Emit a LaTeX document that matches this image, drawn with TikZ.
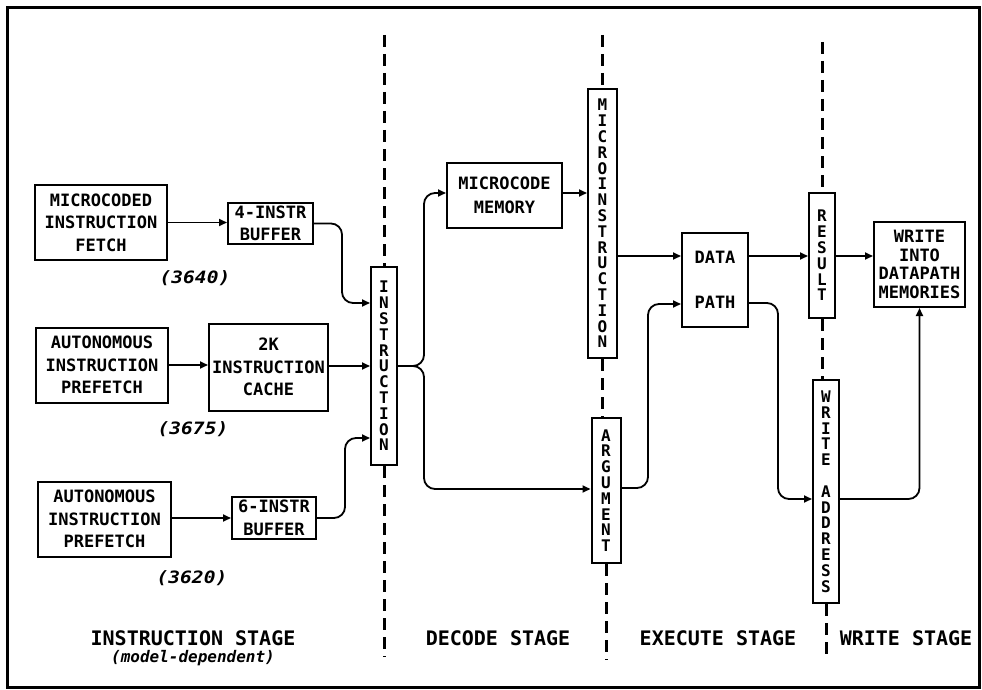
\documentclass[tikz,border=0pt]{standalone}
\usepackage{fontspec}
\setmainfont{DejaVu Sans Mono}
\newfontfamily\numfont{DejaVu Sans Mono}[FakeStretch=1.15]
\usetikzlibrary{arrows.meta}
\newcommand\bxf{\fontsize{17}{22.5}\selectfont\bfseries}
\newcommand\vlf{\fontsize{16}{15.8}\selectfont\bfseries}
\begin{document}
\begin{tikzpicture}[x=1pt,y=-1pt,
  box/.style={draw, line width=2pt, inner sep=0pt, font=\bxf, align=center},
  vbox/.style={draw, line width=2pt, inner sep=0pt, font=\vlf, align=center},
  txt/.style={inner sep=0pt, font=\bxf},
  numlab/.style={inner sep=0pt, font=\numfont\fontsize{17}{20}\selectfont\bfseries\itshape},
  stagelab/.style={inner sep=0pt, font=\fontsize{20}{24}\selectfont\bfseries},
  sublab/.style={inner sep=0pt, font=\fontsize{16}{19}\selectfont\bfseries\itshape},
  conn/.style={line width=1.8pt, rounded corners=11pt, -{Triangle[length=8pt,width=7pt]}},
  dsh/.style={line width=3pt, dash pattern=on 12pt off 7pt}]
\useasboundingbox (0,0) rectangle (982,690);
\draw[line width=3pt] (7,8) rectangle (979,687);

% instruction stage boxes
\node[box, minimum width=132pt, minimum height=75pt] (fetch) at (101,222.5) {MICROCODED\\INSTRUCTION\\FETCH};
\node[box, minimum width=85pt, minimum height=41pt] (buf4) at (270.5,223.5) {4-INSTR\\BUFFER};
\node[box, minimum width=132pt, minimum height=75pt] (pre2) at (102,365) {AUTONOMOUS\\INSTRUCTION\\PREFETCH};
\node[box, minimum width=119pt, minimum height=87pt] (cache) at (268.5,367) {2K\\INSTRUCTION\\CACHE};
\node[box, minimum width=133pt, minimum height=75pt] (pre3) at (104.5,519) {AUTONOMOUS\\INSTRUCTION\\PREFETCH};
\node[box, minimum width=84pt, minimum height=42pt] (buf6) at (274,518) {6-INSTR\\BUFFER};
\node[vbox, minimum width=26pt, minimum height=198pt] (instr) at (384,366) {I\\N\\S\\T\\R\\U\\C\\T\\I\\O\\N};

\node[numlab] (n1) at (195,278) {(3640)};
\node[numlab] (n2) at (193,429) {(3675)};
\node[numlab] (n3) at (192,578) {(3620)};

% decode stage
\node[box, minimum width=115pt, minimum height=65pt] (mcm) at (504.5,195.5) {MICROCODE\\[1.5pt]MEMORY};
\node[vbox, minimum width=29pt, minimum height=269pt] (micro) at (602.5,223.5) {M\\I\\C\\R\\O\\I\\N\\S\\T\\R\\U\\C\\T\\I\\O\\N};
\node[vbox, minimum width=29pt, minimum height=145pt] (arg) at (606,490.5) {A\\R\\G\\U\\M\\E\\N\\T};

% execute stage
\node[draw, line width=2pt, minimum width=66pt, minimum height=94pt] (dp) at (715,280) {};
\node[txt] (dpa) at (715,257) {DATA};
\node[txt] (dpb) at (715,302) {PATH};

% write stage
\node[vbox, minimum width=26pt, minimum height=125pt] (res) at (822,255.5) {R\\E\\S\\U\\L\\T};
\node[vbox, minimum width=26pt, minimum height=223pt] (wa) at (826,491.5) {W\\R\\I\\T\\E\\\mbox{}\\A\\D\\D\\R\\E\\S\\S};
\node[box, minimum width=91pt, minimum height=85pt, font=\fontsize{17}{18.5}\selectfont\bfseries] (wim) at (919.5,264.5) {WRITE\\INTO\\DATAPATH\\MEMORIES};

% stage labels
\node[stagelab] (s1) at (193,638) {INSTRUCTION STAGE};
\node[sublab] (s1b) at (193,658) {(model-dependent)};
\node[stagelab] (s2) at (498,638) {DECODE STAGE};
\node[stagelab] (s3) at (718,638) {EXECUTE STAGE};
\node[stagelab] (s4) at (906,638) {WRITE STAGE};

% dashed stage separators
\coordinate (d1t) at (384,35);
\coordinate (d1b) at (384,657);
\coordinate (d2t) at (602.5,35);
\coordinate (d2b) at (606,660);
\coordinate (d3t) at (822,42);
\coordinate (d3b) at (826,657);
\draw[dsh] (d1t) -- (instr.north);
\draw[dsh] (instr.south) -- (d1b);
\draw[dsh] (d2t) -- (micro.north);
\draw[dsh] (micro.south) -- (micro.south |- arg.north);
\draw[dsh] (arg.south) -- (d2b);
\draw[dsh] (d3t) -- (res.north);
\draw[dsh] (res.south) -- (res.south |- wa.north);
\draw[dsh] (wa.south) -- (d3b);

% connectors
\draw[conn] (fetch.east) -- (fetch.east -| buf4.west);
\draw[conn] (buf4.east) -- (342,223.5) -- (342,303) -- (instr.west |- 0,303);
\draw[conn] (pre2.east) -- (pre2.east -| cache.west);
\draw[conn] (cache.east |- instr.west) -- (instr.west);
\draw[conn] (pre3.east |- buf6.west) -- (buf6.west);
\draw[conn] (buf6.east) -- (345,518) -- (345,438) -- (instr.west |- 0,438);
\draw[conn] (instr.east) -- (424,366) -- (424,193) -- (mcm.west |- 0,193);
\draw[conn] (instr.east) -- (424,366) -- (424,489) -- (arg.west |- 0,489);
\draw[conn] (mcm.east |- 0,193) -- (micro.west |- 0,193);
\draw[conn] (micro.east |- 0,256) -- (dp.west |- 0,256);
\draw[conn] (arg.east |- 0,488) -- (648,488) -- (648,304) -- (dp.west |- 0,304);
\draw[conn] (dp.east |- 0,256) -- (res.west |- 0,256);
\draw[conn] (res.east |- 0,256) -- (wim.west |- 0,256);
\draw[conn] (dp.east |- 0,303) -- (778,303) -- (778,499) -- (wa.west |- 0,499);
\draw[conn] (wa.east |- 0,499) -| (wim.south);
\end{tikzpicture}
\end{document}
